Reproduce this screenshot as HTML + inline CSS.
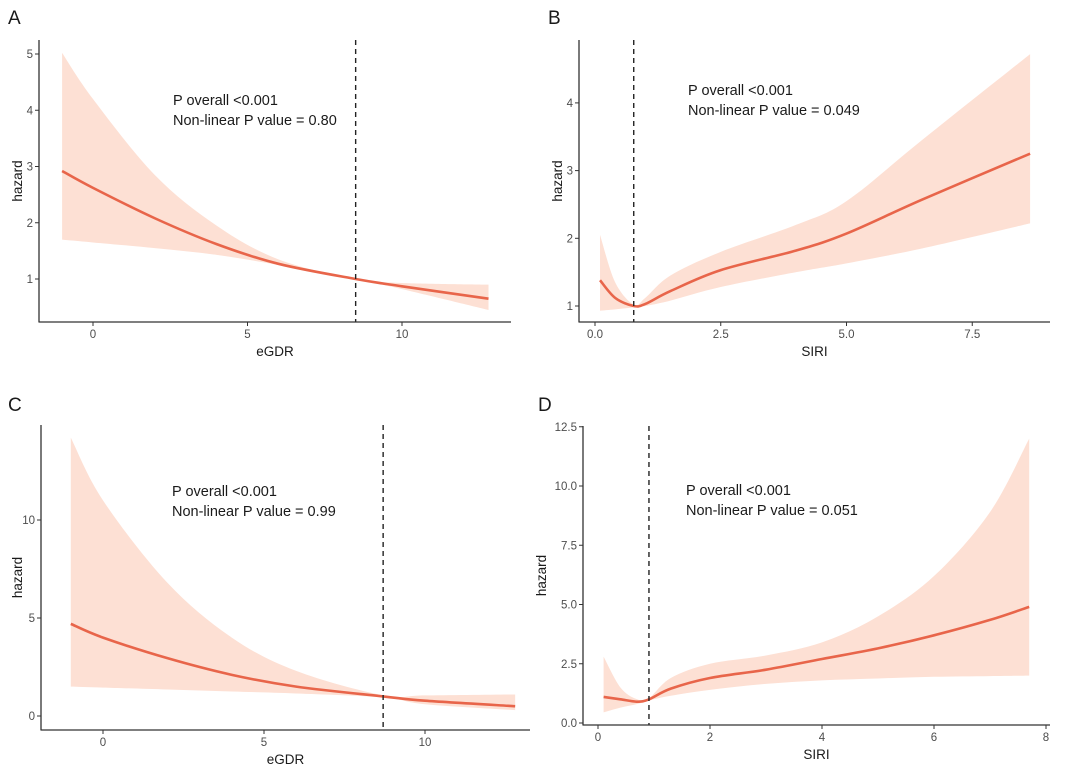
<!DOCTYPE html>
<html><head><meta charset="utf-8"><style>
body{margin:0;background:#fff;}
svg{display:block;font-family:"Liberation Sans",sans-serif;}
.tick{fill:#4d4d4d;font-size:11.5px;}
.ttl{fill:#1a1a1a;font-size:13.5px;}
.ann{fill:#1a1a1a;font-size:14.5px;}
.lbl{fill:#1a1a1a;font-size:19px;}
</style></head><body>
<svg id="s" width="1080" height="765"></svg>
<script>
// Panel A
const aX=[-1,0,2,4,6,8.5,10,12.8];
const aFit=[2.92,2.62,2.08,1.62,1.27,1.0,0.87,0.65];
const aUp=[5.02,4.2,2.85,1.95,1.35,1.0,0.93,0.9];
const aLo=[1.7,1.65,1.55,1.43,1.25,1.0,0.82,0.45];
// Panel B
const bX=[0.1,0.4,0.77,1.0,1.5,2.5,4,5,6.5,8.65];
const bFit=[1.38,1.12,1.0,1.03,1.22,1.53,1.82,2.07,2.57,3.25];
const bUp=[2.05,1.35,1.02,1.12,1.45,1.8,2.2,2.55,3.45,4.72];
const bLo=[0.93,0.95,0.98,1.0,1.08,1.28,1.5,1.63,1.85,2.22];
// Panel C
const cX=[-1,0,2,4,6,8.7,10,12.8];
const cFit=[4.7,4.0,2.95,2.1,1.5,1.0,0.78,0.5];
const cUp=[14.2,11.0,6.8,4.0,2.3,1.05,1.05,1.1];
const cLo=[1.5,1.45,1.35,1.25,1.15,0.95,0.6,0.3];
// Panel D
const dX=[0.1,0.4,0.7,0.91,1.3,2,3,4,5,6,7,7.7];
const dFit=[1.1,1.0,0.9,1.0,1.45,1.9,2.25,2.7,3.15,3.7,4.35,4.9];
const dUp=[2.8,1.5,1.0,1.05,1.9,2.5,2.85,3.4,4.5,6.2,8.9,12.0];
const dLo=[0.45,0.65,0.8,0.95,1.15,1.4,1.65,1.8,1.88,1.95,1.98,2.0];

const NS="http://www.w3.org/2000/svg";
const svg=document.getElementById('s');
function mk(t,a,p){const e=document.createElementNS(NS,t);for(const k in a)e.setAttribute(k,a[k]);(p||svg).appendChild(e);return e;}
function smooth(pts){let d="M"+pts[0][0]+","+pts[0][1];
 for(let i=0;i<pts.length-1;i++){const p0=pts[Math.max(0,i-1)],p1=pts[i],p2=pts[i+1],p3=pts[Math.min(pts.length-1,i+2)];
 d+=" C"+(p1[0]+(p2[0]-p0[0])/6)+","+(p1[1]+(p2[1]-p0[1])/6)+" "+(p2[0]-(p3[0]-p1[0])/6)+","+(p2[1]-(p3[1]-p1[1])/6)+" "+p2[0]+","+p2[1];}
 return d;}
function panel(P){
 const g=mk('g',{});
 
 
 const sx=v=>P.x0px+(v-P.x0)*P.kx, sy=v=>P.y0px-(v-P.y0)*P.ky;
 const up=P.xs.map((x,i)=>[sx(x),sy(P.up[i])]), lo=P.xs.map((x,i)=>[sx(x),sy(P.lo[i])]).reverse();
 const band=mk('path',{d:smooth(up)+" L"+lo[0][0]+","+lo[0][1]+smooth(lo).replace(/^M[^ ]+/,'')+"Z",fill:'#fde0d4'},g);
 
 
 const ln=mk('path',{d:smooth(P.xs.map((x,i)=>[sx(x),sy(P.fit[i])])),fill:'none',stroke:'#e8654a','stroke-width':2.6},g);
 
 
 const dl=mk('line',{x1:sx(P.ref),x2:sx(P.ref),y1:P.top,y2:P.axY,stroke:'#222','stroke-width':1.4,'stroke-dasharray':'5,4'},g);
 
 
 mk('line',{x1:P.axX,x2:P.axX,y1:P.top,y2:P.axY+0.5,stroke:'#333','stroke-width':1.3},g);
 mk('line',{x1:P.axX,x2:P.right,y1:P.axY,y2:P.axY,stroke:'#333','stroke-width':1.3},g);
 P.xt.forEach((v,i)=>{mk('line',{x1:sx(v),x2:sx(v),y1:P.axY,y2:P.axY+4,stroke:'#333'},g);
  const t=mk('text',{x:sx(v),y:P.axY+16,'text-anchor':'middle',class:'tick'},g);t.textContent=P.xtl[i];});
 P.yt.forEach((v,i)=>{mk('line',{x1:P.axX-4,x2:P.axX,y1:sy(v),y2:sy(v),stroke:'#333'},g);
  const t=mk('text',{x:P.axX-6,y:sy(v)+4,'text-anchor':'end',class:'tick'},g);t.textContent=P.ytl[i];});
 const xt=mk('text',{x:(P.axX+P.right)/2,y:P.axY+34,'text-anchor':'middle',class:'ttl'},g);xt.textContent=P.xlab;
 
 const yt=mk('text',{x:P.ylabX,y:(P.top+P.axY)/2,'text-anchor':'middle',class:'ttl',transform:`rotate(-90 ${P.ylabX} ${(P.top+P.axY)/2})`},g);yt.textContent='hazard';
 
 const a1=mk('text',{x:P.tx,y:P.ty,class:'ann'},g);a1.textContent='P overall <0.001';
 
 const a2=mk('text',{x:P.tx,y:P.ty+20,class:'ann'},g);a2.textContent='Non-linear P value = '+P.pnl;
 
 const l=mk('text',{x:P.lx,y:P.ly,class:'lbl'},g);l.textContent=P.id;
 
}
panel({id:'A',xs:aX,fit:aFit,up:aUp,lo:aLo,x0:0,x0px:93,kx:30.9,y0:1,y0px:279,ky:56.25,ref:8.5,top:40,axY:322,axX:39,right:511,
 xt:[0,5,10],xtl:['0','5','10'],yt:[1,2,3,4,5],ytl:['1','2','3','4','5'],xlab:'eGDR',ylabX:22,tx:173,ty:105,pnl:'0.80',lx:8,ly:24});
panel({id:'B',xs:bX,fit:bFit,up:bUp,lo:bLo,x0:0,x0px:595,kx:50.3,y0:1,y0px:306,ky:67.7,ref:0.77,top:40,axY:322,axX:579,right:1050,
 xt:[0,2.5,5,7.5],xtl:['0.0','2.5','5.0','7.5'],yt:[1,2,3,4],ytl:['1','2','3','4'],xlab:'SIRI',ylabX:562,tx:688,ty:95,pnl:'0.049',lx:548,ly:24});
panel({id:'C',xs:cX,fit:cFit,up:cUp,lo:cLo,x0:0,x0px:103,kx:32.2,y0:0,y0px:716,ky:19.6,ref:8.7,top:425,axY:730,axX:41,right:530,
 xt:[0,5,10],xtl:['0','5','10'],yt:[0,5,10],ytl:['0','5','10'],xlab:'eGDR',ylabX:22,tx:172,ty:496,pnl:'0.99',lx:8,ly:411});
panel({id:'D',xs:dX,fit:dFit,up:dUp,lo:dLo,x0:0,x0px:598,kx:56,y0:0,y0px:723,ky:23.7,ref:0.91,top:426,axY:725,axX:583,right:1050,
 xt:[0,2,4,6,8],xtl:['0','2','4','6','8'],yt:[0,2.5,5,7.5,10,12.5],ytl:['0.0','2.5','5.0','7.5','10.0','12.5'],xlab:'SIRI',ylabX:546,tx:686,ty:495,pnl:'0.051',lx:538,ly:411});
</script>
</body></html>
